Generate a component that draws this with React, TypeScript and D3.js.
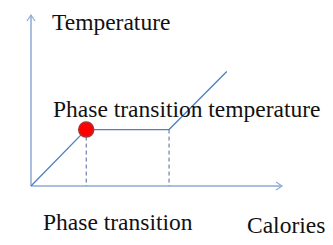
import React from "react";
import * as d3 from "d3";

// heat curve: calories (x) vs temperature (y), both in arbitrary units
const calories = [0, 22, 55, 78];
const temperature = [0, 33, 33, 67];
const transitionIndex = [1, 2];
const labels = {
  y: "Temperature",
  x: "Calories",
  plateau: "Phase transition temperature",
  below: "Phase transition",
};

export default function App() {
  const width = 333;
  const height = 245;

  const x = d3.scaleLinear().domain([0, 100]).range([31, 282]);
  const y = d3.scaleLinear().domain([0, 100]).range([186, 15]);

  const pts = calories.map((c, i) => [x(c), y(temperature[i])] as [number, number]);
  const line = d3.line();

  const axisColor = "#8eaad6";
  const curveColor = "#4f7fbf";
  const textStyle = { fontFamily: "Liberation Serif", fontSize: 23.5, fill: "#111" };

  const dot = pts[transitionIndex[0]];

  return (
    <svg
      width={width}
      height={height}
      style={{ position: "absolute", left: 0, top: 0, background: "#fff" }}
    >
      {/* axes */}
      <line x1={x(0)} y1={y(0)} x2={x(0)} y2={y(100)} stroke={axisColor} strokeWidth={1.5} />
      <polyline
        points={`${x(0) - 4},${y(100) + 6} ${x(0)},${y(100)} ${x(0) + 4},${y(100) + 6}`}
        fill="none"
        stroke={axisColor}
        strokeWidth={1.2}
      />
      <line x1={x(0)} y1={y(0)} x2={x(100)} y2={y(0)} stroke={axisColor} strokeWidth={1.5} />
      <polyline
        points={`${x(100) - 6},${y(0) - 4} ${x(100)},${y(0)} ${x(100) - 6},${y(0) + 4}`}
        fill="none"
        stroke={axisColor}
        strokeWidth={1.2}
      />

      {/* dashed drop lines */}
      {transitionIndex.map((i) => (
        <line
          key={i}
          x1={pts[i][0]}
          y1={pts[i][1]}
          x2={pts[i][0]}
          y2={y(0)}
          stroke="#4a6a9c"
          strokeWidth={1}
          strokeDasharray="4,3"
        />
      ))}

      <path d={line(pts) || ""} fill="none" stroke={curveColor} strokeWidth={1.3} />

      <circle cx={dot[0]} cy={dot[1]} r={7.5} fill="#ff0000" stroke="#b03030" strokeWidth={1.5} />

      <text x={52} y={30} style={textStyle}>{labels.y}</text>
      <text x={53} y={117} style={textStyle}>{labels.plateau}</text>
      <text x={43} y={230} style={textStyle}>{labels.below}</text>
      <text x={247} y={233} style={textStyle}>{labels.x}</text>
    </svg>
  );
}
